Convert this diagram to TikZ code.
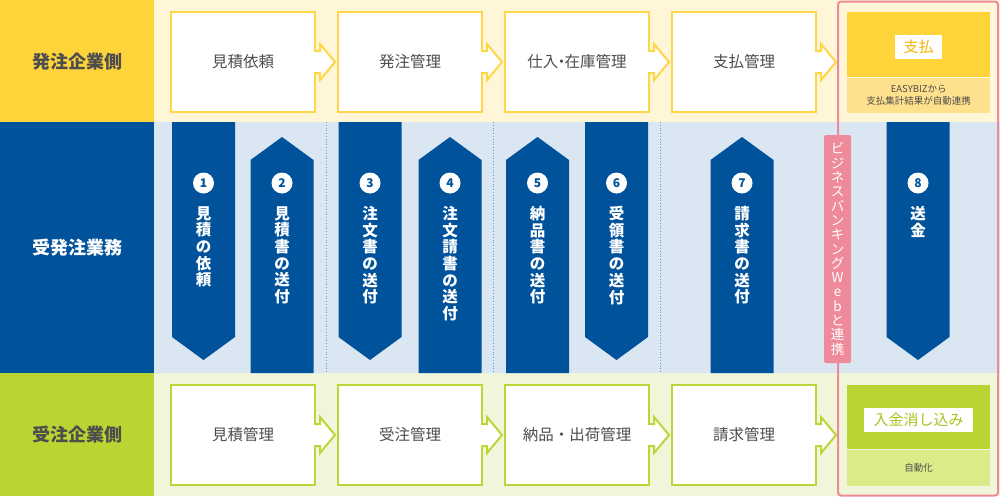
\documentclass[tikz,border=0pt]{standalone}
\usepackage{fontspec}
\setmainfont{Noto Sans CJK JP}
\definecolor{ordYellow}{HTML}{FFD43B}
\definecolor{ordBg}{HTML}{FFF5D7}
\definecolor{ordLine}{HTML}{FFD647}
\definecolor{payLight}{HTML}{FFE08C}
\definecolor{payText}{HTML}{F3B500}
\definecolor{bizBlue}{HTML}{00529B}
\definecolor{bizBg}{HTML}{DAE6F1}
\definecolor{sepBlue}{HTML}{5B9BD5}
\definecolor{rcvGreen}{HTML}{B9D531}
\definecolor{rcvBg}{HTML}{F0F6D9}
\definecolor{rcvLine}{HTML}{BCD63A}
\definecolor{rcvLight}{HTML}{DDEA8A}
\definecolor{rcvText}{HTML}{A6C41E}
\definecolor{linkPink}{HTML}{EF8A9B}
\definecolor{textGray}{HTML}{4D4D4D}
\tikzset{
  lanebox/.style={anchor=north west, minimum width=154pt, inner sep=0,
    font=\bfseries\fontsize{18}{20}\selectfont},
  procbox/.style={draw, fill=white, line width=2pt, minimum width=144pt,
    minimum height=100pt, outer sep=0, inner sep=0, text=textGray,
    font=\fontsize{15.5}{17}\selectfont},
  tabline/.style={line width=2pt, fill=white},
  numdot/.style={circle, fill=white, minimum size=21pt, inner sep=0,
    text=bizBlue, font=\bfseries\fontsize{12}{12}\selectfont},
  bannertext/.style={anchor=north, inner sep=0, align=center, text=white,
    font=\bfseries\fontsize{15.5}{16.7}\selectfont},
  tagbox/.style={fill=white, inner sep=0, font=\fontsize{15}{17}\selectfont},
  notetext/.style={inner sep=0, align=center, text=textGray},
  sepline/.style={sepBlue, dotted, line width=0.8pt},
}
\begin{document}
\begin{tikzpicture}[x=1pt,y=-1pt]
  \useasboundingbox (0,0) rectangle (1000,498) ;
  % lanes
  \fill[ordBg] (154,0) rectangle (1000,122) ;
  \fill[bizBg] (154,122) rectangle (1000,373) ;
  \fill[rcvBg] (154,373) rectangle (1000,496) ;
  \node[lanebox, fill=ordYellow, minimum height=122pt, text=textGray] (ordLane) at (0,0) {発注企業側} ;
  \node[lanebox, fill=bizBlue, minimum height=251pt, text=white] (bizLane) at (0,122) {受発注業務} ;
  \node[lanebox, fill=rcvGreen, minimum height=123pt, text=textGray] (rcvLane) at (0,373) {受注企業側} ;
  \draw[sepline] (326,122) -- (326,373) ;
  \draw[sepline] (493,122) -- (493,373) ;
  \draw[sepline] (660,122) -- (660,373) ;
  % process boxes
  \foreach \i/\cx/\top/\bot in {1/243/見積依頼/見積管理, 2/410/発注管理/受注管理,
      3/577/{仕入\kern-.3em・\kern-.3em在庫管理}/納品・出荷管理, 4/744/支払管理/請求管理} {
    \node[procbox, draw=ordLine] (t\i) at (\cx,62) {\top} ;
    \node[procbox, draw=rcvLine] (b\i) at (\cx,435) {\bot} ;
  }
  \foreach \a/\c in {t1/ordLine, t2/ordLine, t3/ordLine, t4/ordLine,
      b1/rcvLine, b2/rcvLine, b3/rcvLine, b4/rcvLine} {
    \filldraw[tabline, draw=\c] (\a.east) ++(0,-11) -- ++(5,0) -- ++(0,-7)
      -- ++(15,18) -- ++(-15,18) -- ++(0,-7) -- ++(-5,0) ;
    \fill[white] (\a.east) ++(-1.2,-10) rectangle ++(2.4,20) ;
  }
  % banners, down
  \foreach \cx/\num/\txt in {203.5/1/{見\\積\\の\\依\\頼}, 370/3/{注\\文\\書\\の\\送\\付},
      616.5/6/{受\\領\\書\\の\\送\\付}, 918/8/{送\\金}} {
    \fill[bizBlue] (\cx-31.5,122) -- (\cx+31.5,122) -- (\cx+31.5,337)
      -- (\cx,360) -- (\cx-31.5,337) -- cycle ;
    \node[numdot] (n\num) at (\cx,183) {\num} ;
    \node[bannertext] (s\num) at (\cx,206) {\txt} ;
  }
  % banners, up
  \foreach \cx/\num/\txt in {282/2/{見\\積\\書\\の\\送\\付}, 450/4/{注\\文\\請\\書\\の\\送\\付},
      537.5/5/{納\\品\\書\\の\\送\\付}, 742/7/{請\\求\\書\\の\\送\\付}} {
    \fill[bizBlue] (\cx-31.5,373) -- (\cx-31.5,160) -- (\cx,137)
      -- (\cx+31.5,160) -- (\cx+31.5,373) -- cycle ;
    \node[numdot] (n\num) at (\cx,183) {\num} ;
    \node[bannertext] (s\num) at (\cx,206) {\txt} ;
  }
  % automated side
  \node[fill=ordYellow, minimum width=143pt, minimum height=65pt, inner sep=0,
    anchor=north west] (payTop) at (847,12) {} ;
  \node[fill=payLight, minimum width=143pt, minimum height=35pt, inner sep=0,
    anchor=north, notetext, font=\fontsize{9.5}{12}\selectfont] (payNote) at (payTop.south)
    {EASYBIZから\\支払集計結果が自動連携} ;
  \node[tagbox, minimum width=47pt, minimum height=24pt, text=payText] (payTag) at (918.5,47) {支払} ;
  \node[fill=rcvGreen, minimum width=143pt, minimum height=64pt, inner sep=0,
    anchor=north west] (clrTop) at (847,385) {} ;
  \node[fill=rcvLight, minimum width=143pt, minimum height=36pt, inner sep=0,
    anchor=north, notetext, font=\fontsize{9.5}{12}\selectfont] (clrNote) at (clrTop.south) {自動化} ;
  \node[tagbox, minimum width=109pt, minimum height=24pt, text=rcvText] (clrTag) at (918.5,420) {入金消し込み} ;
  \draw[linkPink, line width=2pt, rounded corners=3pt] (838,1.5) rectangle (998,495.5) ;
  \node[fill=linkPink, rounded corners=2pt, minimum width=27pt, minimum height=228pt,
    inner sep=0, align=center, text=white, font=\fontsize{13.5}{14.3}\selectfont] (bankLink) at (837.5,249)
    {ビ\\ジ\\ネ\\ス\\バ\\ン\\キ\\ン\\グ\\W\\e\\b\\と\\連\\携} ;
\end{tikzpicture}
\end{document}
